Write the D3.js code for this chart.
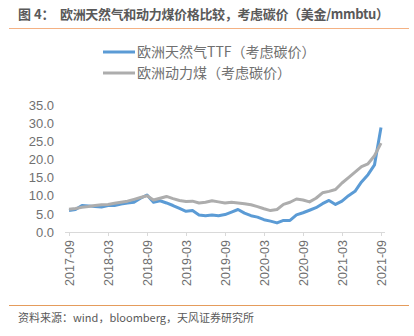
<!DOCTYPE html>
<html><head><meta charset="utf-8">
<script src="https://cdn.jsdelivr.net/npm/d3@7"></script>
<style>body{margin:0;background:#fff;}svg{display:block;font-family:"Noto Sans CJK SC","Noto Sans",sans-serif;}</style>
</head><body>
<svg id="c" width="414" height="336"></svg>
<script>
const tickLabels = ["2017-09","2018-03","2018-09","2019-03","2019-09","2020-03","2020-09","2021-03","2021-09"];
const ttf = [5.9,6.2,7.3,7.2,7.0,6.9,7.3,7.3,7.7,8.0,8.2,9.3,10.2,8.2,8.6,8.0,7.3,6.5,5.7,5.9,4.7,4.5,4.7,4.5,4.8,5.5,6.2,5.2,4.5,4.1,3.4,3.0,2.5,3.2,3.2,4.7,5.3,6.0,6.7,7.8,8.7,7.6,8.5,10.0,11.2,13.8,15.8,18.5,28.8];
const coal = [6.3,6.5,6.8,7.0,7.3,7.5,7.6,7.9,8.2,8.5,9.0,9.5,10.0,8.8,9.3,9.8,9.2,8.7,8.4,8.5,8.0,8.2,8.6,8.3,8.0,8.2,8.0,7.8,7.5,7.0,6.4,5.9,6.2,7.6,8.2,9.1,8.8,8.3,9.3,10.8,11.2,11.7,13.5,15.0,16.5,18.0,18.8,21.0,24.5];
const yTicks = [0,5,10,15,20,25,30,35];
const seriesNames = ["欧洲天然气TTF（考虑碳价）","欧洲动力煤（考虑碳价）"];
const colors = ["#5B9BD5","#ADADAD"];

const svg = d3.select("#c");
const x = d3.scaleLinear().domain([0,48]).range([69,381]);
const y = d3.scaleLinear().domain([0,35]).range([232,105]);

// title
svg.append("text").attr("x",18).attr("y",19).attr("font-size",13).attr("font-weight","bold").attr("fill","#595959").text("图 4：");
svg.append("text").attr("x",60).attr("y",19).attr("font-size",13).attr("font-weight","bold").attr("fill","#595959")
  .attr("textLength",329).attr("lengthAdjust","spacing")
  .text("欧洲天然气和动力煤价格比较，考虑碳价（美金/mmbtu）");
svg.append("line").attr("x1",9).attr("x2",409).attr("y1",28.5).attr("y2",28.5).attr("stroke","#F4B183").attr("stroke-width",1.2);

// y axis labels
const ya = svg.append("g").attr("transform","translate(54,0)")
  .call(d3.axisLeft(y).tickValues(yTicks).tickFormat(d3.format(".1f")).tickSize(0).tickPadding(0));
ya.select(".domain").remove();
ya.selectAll("text").attr("font-size",13).attr("fill","#707070").attr("font-family","'Liberation Sans',Arial,sans-serif");

// x axis
const tickIdx = tickLabels.map((t,i)=>i*6);
const xa = svg.append("g").attr("transform","translate(0,232)")
  .call(d3.axisBottom(x).tickValues(tickIdx).tickFormat((d,i)=>tickLabels[i]).tickSize(4).tickSizeOuter(0));
xa.select(".domain").attr("stroke","#D9D9D9").attr("d","M65,0.5H385");
xa.selectAll(".tick line").attr("stroke","#D9D9D9");
xa.selectAll("text").attr("font-size",12.5).attr("fill","#707070").attr("font-family","'Liberation Sans',Arial,sans-serif")
  .attr("transform","rotate(-90)").attr("text-anchor","end").attr("dx","-8").attr("dy","0.35em").attr("y",0).attr("x",0);

// lines
const line = d3.line().x((d,i)=>x(i)).y(d=>y(d));
[ttf,coal].forEach((s,k)=>{
  svg.append("path").datum(s).attr("d",line).attr("fill","none").attr("stroke",colors[k]).attr("stroke-width",3).attr("stroke-linejoin","round");
});

// legend
seriesNames.forEach((n,k)=>{
  const ly = 52 + k*21;
  svg.append("line").attr("x1",103).attr("x2",135).attr("y1",ly).attr("y2",ly).attr("stroke",colors[k]).attr("stroke-width",3);
  svg.append("text").attr("x",137).attr("y",ly).attr("dy","0.35em").attr("font-size",14).attr("fill","#707070").text(n);
});

// bottom
svg.append("line").attr("x1",9).attr("x2",409).attr("y1",305.5).attr("y2",305.5).attr("stroke","#E59C5C").attr("stroke-width",1.2);
svg.append("text").attr("x",18).attr("y",322).attr("font-size",11).attr("fill","#595959").text("资料来源：wind，bloomberg，天风证券研究所");
</script>
</body></html>
